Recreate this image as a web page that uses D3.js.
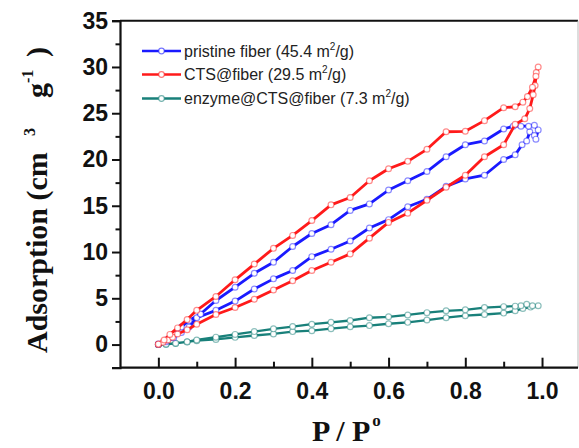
<!DOCTYPE html>
<html>
<head>
<meta charset="utf-8">
<script src="https://cdn.jsdelivr.net/npm/d3@7"></script>
<style>
  html, body { margin: 0; padding: 0; background: #fff; }
  svg { display: block; }
</style>
</head>
<body>
<div id="chart"></div>
<script>
// ---------- data (P/P0, adsorbed volume cm3/g) ----------
const seriesNames = ["pristine fiber", "CTS@fiber", "enzyme@CTS@fiber"];
const surfaceAreas = ["45.4", "29.5", "7.3"];
const seriesColors = ["#1a1aff", "#ff1a1a", "#19807a"];

const pristineAds = [[0,0],[0.02,0.3],[0.04,0.75],[0.06,1.3],[0.08,1.9],[0.1,2.9],[0.15,3.7],[0.2,4.7],[0.25,6.0],[0.3,7.1],[0.35,8.0],[0.4,9.5],[0.45,10.3],[0.5,11.2],[0.55,12.6],[0.6,13.5],[0.65,14.9],[0.7,15.7],[0.75,17.1],[0.8,17.9],[0.85,18.3],[0.9,20.0],[0.93,20.5],[0.948,21.6],[0.96,22.0],[0.968,23.0],[0.98,22.6],[0.984,22.2],[0.99,23.2]];
const pristineDes = [[0.98,23.7],[0.965,23.6],[0.945,23.6],[0.925,23.6],[0.9,23.3],[0.85,22.0],[0.8,21.6],[0.75,20.3],[0.7,18.7],[0.65,17.7],[0.6,16.7],[0.55,15.2],[0.5,14.5],[0.45,12.95],[0.4,12.0],[0.35,10.6],[0.3,8.9],[0.25,7.7],[0.2,6.2],[0.15,4.76],[0.11,3.3],[0.08,2.6],[0.06,1.9],[0.04,1.1],[0.02,0.5],[0,0.05]];

const ctsAds = [[0,0],[0.012,0.25],[0.025,0.5],[0.037,0.8],[0.05,1.15],[0.075,1.6],[0.1,2.2],[0.15,3.25],[0.2,4.0],[0.25,4.9],[0.3,5.9],[0.35,6.9],[0.4,8.0],[0.45,8.9],[0.5,9.8],[0.55,11.5],[0.6,13.2],[0.65,14.2],[0.7,15.6],[0.75,17.0],[0.8,18.3],[0.85,20.3],[0.9,21.6],[0.93,23.8],[0.955,24.4],[0.968,25.5],[0.977,27.0],[0.982,28.0],[0.985,29.4],[0.99,30.0]];
const ctsDes = [[0.984,29.0],[0.975,27.8],[0.962,26.8],[0.95,26.2],[0.93,25.7],[0.9,25.6],[0.85,24.2],[0.8,23.05],[0.75,23.0],[0.7,21.1],[0.65,19.8],[0.6,19.0],[0.55,17.7],[0.5,15.9],[0.45,15.1],[0.4,13.4],[0.35,11.8],[0.3,10.4],[0.25,8.7],[0.2,7.0],[0.15,5.2],[0.1,3.7],[0.075,2.7],[0.05,1.8],[0.03,1.1],[0.015,0.5],[0,0.05]];

const enzymeAds = [[0,0],[0.02,0.02],[0.045,0.12],[0.075,0.28],[0.1,0.42],[0.15,0.55],[0.2,0.78],[0.25,0.98],[0.3,1.15],[0.35,1.4],[0.4,1.5],[0.45,1.72],[0.5,1.92],[0.55,2.05],[0.6,2.25],[0.65,2.4],[0.7,2.65],[0.75,2.9],[0.8,3.12],[0.85,3.25],[0.9,3.4],[0.93,3.65],[0.95,3.9],[0.97,4.05],[0.99,4.2]];
const enzymeDes = [[0.975,4.2],[0.96,4.35],[0.945,4.2],[0.93,4.15],[0.9,4.1],[0.85,4.0],[0.8,3.75],[0.75,3.65],[0.7,3.45],[0.65,3.2],[0.6,3.0],[0.55,2.9],[0.5,2.6],[0.45,2.4],[0.4,2.2],[0.35,1.95],[0.3,1.7],[0.25,1.4],[0.2,1.1],[0.15,0.8],[0.1,0.5],[0.075,0.3],[0.045,0.15],[0.02,0.05],[0,0]];

const xMajorTicks = [0, 0.2, 0.4, 0.6, 0.8, 1.0];
const xMinorTicks = [0.1, 0.3, 0.5, 0.7, 0.9];
const yMajorTicks = [0, 5, 10, 15, 20, 25, 30, 35];
const yMinorTicks = [2.5, 7.5, 12.5, 17.5, 22.5, 27.5, 32.5];

// ---------- layout ----------
const W = 579, H = 448;
const svg = d3.select("#chart").append("svg").attr("width", W).attr("height", H);

const x = d3.scaleLinear().domain([-0.1, 1.1]).range([120, 580.4]);
const y = d3.scaleLinear().domain([-2.5, 35]).range([367.7, 20.7]);
const plotRight = 578;

const SANS = "'Liberation Sans', Arial, sans-serif";
const SERIF = "'Liberation Serif', 'Times New Roman', serif";

// frame (top + right)
svg.append("line").attr("x1", x(-0.1)).attr("x2", plotRight).attr("y1", y(35)).attr("y2", y(35))
  .attr("stroke", "#111").attr("stroke-width", 2);
svg.append("line").attr("x1", plotRight).attr("x2", plotRight).attr("y1", y(35)).attr("y2", y(-2.5))
  .attr("stroke", "#bbb").attr("stroke-width", 1);

// y axis: outward ticks
const yAxis = d3.axisLeft(y).tickValues(yMajorTicks).tickSize(8).tickPadding(4).tickFormat(d3.format("d"));
const gy = svg.append("g").attr("transform", `translate(${x(-0.1)},0)`).call(yAxis);
gy.select(".domain").attr("stroke", "#111").attr("stroke-width", 2.2);
gy.selectAll(".tick line").attr("stroke", "#111").attr("stroke-width", 2);
gy.selectAll(".tick text").attr("font-family", SANS).attr("font-weight", "bold").attr("font-size", 23).attr("fill", "#111");
const yMinor = d3.axisLeft(y).tickValues(yMinorTicks).tickSize(4.5).tickFormat("");
const gym = svg.append("g").attr("transform", `translate(${x(-0.1)},0)`).call(yMinor);
gym.select(".domain").remove();
gym.selectAll(".tick line").attr("stroke", "#111").attr("stroke-width", 2);

// x axis: inward ticks
const xAxis = d3.axisBottom(x).tickValues(xMajorTicks).tickSize(-10).tickPadding(20).tickFormat(d3.format(".1f"));
const gx = svg.append("g").attr("transform", `translate(0,${y(-2.5)})`).call(xAxis);
gx.select(".domain").attr("stroke", "#111").attr("stroke-width", 2.2).attr("d", `M${x(-0.1)},0H${plotRight}`);
gx.selectAll(".tick line").attr("stroke", "#111").attr("stroke-width", 2);
gx.selectAll(".tick text").attr("font-family", SANS).attr("font-weight", "bold").attr("font-size", 23).attr("fill", "#111")
  .attr("dy", "0.71em").attr("y", 15);
const xMinor = d3.axisBottom(x).tickValues(xMinorTicks).tickSize(-6).tickFormat("");
const gxm = svg.append("g").attr("transform", `translate(0,${y(-2.5)})`).call(xMinor);
gxm.select(".domain").remove();
gxm.selectAll(".tick line").attr("stroke", "#111").attr("stroke-width", 2);

// ---------- series ----------
const line = d3.line().x(d => x(d[0])).y(d => y(d[1]));
const series = [
  { pts: enzymeAds.concat(enzymeDes), color: seriesColors[2], w: 2.3 },
  { pts: pristineAds.concat(pristineDes), color: seriesColors[0], w: 2.8 },
  { pts: ctsAds.concat(ctsDes), color: seriesColors[1], w: 2.8 }
];
series.forEach(s => {
  const g = svg.append("g");
  g.append("path").attr("d", line(s.pts)).attr("fill", "none").attr("stroke", s.color)
    .attr("stroke-width", s.w).attr("stroke-linejoin", "round");
  g.selectAll("circle").data(s.pts).join("circle")
    .attr("cx", d => x(d[0])).attr("cy", d => y(d[1])).attr("r", 2.9)
    .attr("fill", "#fff").attr("stroke", s.color).attr("stroke-opacity", 0.5).attr("stroke-width", 1.2);
});

// ---------- legend ----------
const legY = [51, 74.5, 98.5];
seriesNames.forEach((name, i) => {
  const g = svg.append("g");
  g.append("line").attr("x1", 142).attr("x2", 181).attr("y1", legY[i]).attr("y2", legY[i])
    .attr("stroke", seriesColors[i]).attr("stroke-width", 2.4);
  g.append("circle").attr("cx", 161.5).attr("cy", legY[i]).attr("r", 2.8)
    .attr("fill", "#fff").attr("stroke", seriesColors[i]).attr("stroke-opacity", 0.6).attr("stroke-width", 1.2);
  const t = g.append("text").attr("x", 184).attr("y", legY[i] + 5.8)
    .attr("font-family", SANS).attr("font-size", 16).attr("fill", "#222");
  t.append("tspan").text(`${name} (${surfaceAreas[i]} m`);
  t.append("tspan").attr("font-size", 10).attr("dy", -7).text("2");
  t.append("tspan").attr("dy", 7).text("/g)");
});

// ---------- axis titles ----------
const yt = svg.append("g").attr("transform", "translate(47,353) rotate(-90)")
  .attr("font-family", SERIF).attr("font-weight", "bold").attr("fill", "#111");
yt.append("text").attr("x", 0).attr("y", 0).attr("font-size", 30).text("Adsorption (cm");
yt.append("text").attr("x", 217).attr("y", -12).attr("font-size", 16).text("3");
yt.append("text").attr("x", 255).attr("y", 0).attr("font-size", 30).text("g");
yt.append("text").attr("x", 270).attr("y", -14).attr("font-size", 16).text("-1");
yt.append("text").attr("x", 296).attr("y", 0).attr("font-size", 30).text(")");

const xt = svg.append("text").attr("x", 312).attr("y", 441)
  .attr("font-family", SERIF).attr("font-weight", "bold").attr("fill", "#111").attr("font-size", 30);
xt.append("tspan").text("P / P");
xt.append("tspan").attr("font-size", 17).attr("dy", -15).attr("dx", 2).text("o");
</script>
</body>
</html>
